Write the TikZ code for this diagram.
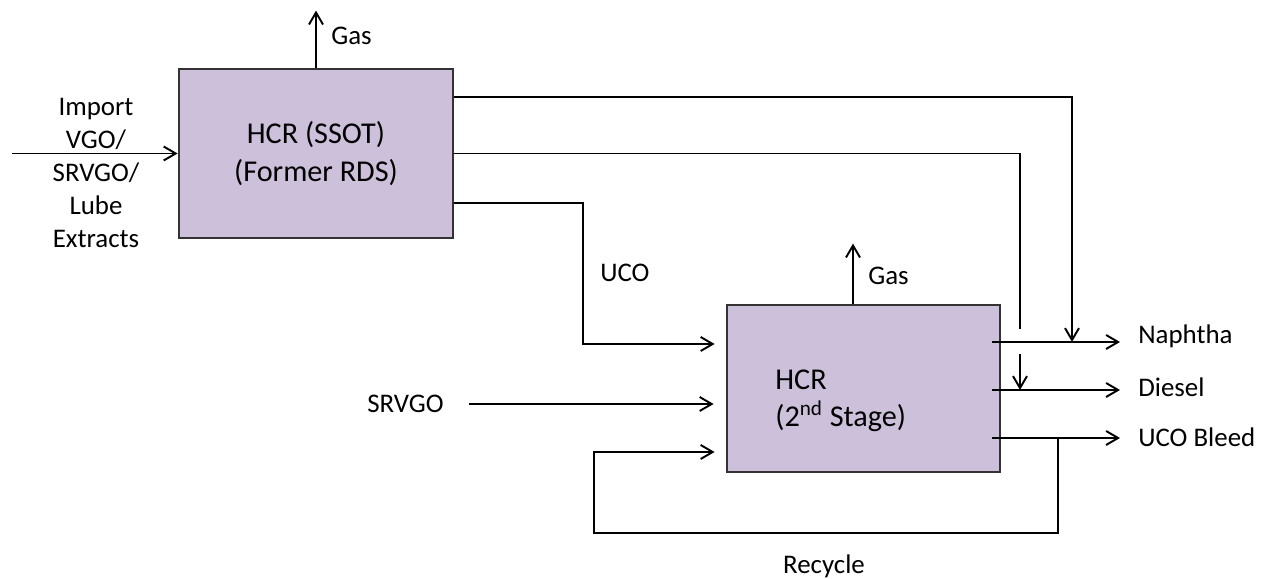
\documentclass[tikz,border=0pt]{standalone}
\usepackage{fontspec}
\setmainfont{Carlito}
\usepackage{xcolor}
\usepackage{tikz}
\usetikzlibrary{arrows.meta,positioning,calc}
\definecolor{unitfill}{HTML}{CCC0DA}

\begin{document}
\begin{tikzpicture}[
                font=\fontsize{15.3}{18.7}\selectfont,
                unit/.style={draw=black!80, line width=1.6pt, fill=unitfill, minimum width=5.48cm, minimum height=3.36cm, inner sep=0pt, align=center, font=\fontsize{17.2}{21.3}\selectfont},
                tag/.style={inner sep=0pt, anchor=base west},
                pipe/.style={line width=1.1pt},
                bus/.style={pipe, -{Straight Barb[length=2.4mm, width=2.8mm]}}
            ]
            \useasboundingbox (0,0) rectangle (25.38,11.58);
            \node[unit, minimum height=3.38cm] (ssot) at (6.32,8.51) {HCR (SSOT)\\(Former RDS)};
            \node[unit, minimum width=5.46cm, minimum height=3.34cm] (stage2) at (17.27,3.81) {};
            \node[inner sep=0pt, anchor=west, align=left, font=\fontsize{17.2}{21.3}\selectfont] (stage2lbl) at (15.50,3.56) {HCR\\(2\textsuperscript{nd} Stage)};
            \node[align=center, inner sep=0pt] (feedlbl) at (1.92,8.12) {Import\\VGO/\\SRVGO/\\Lube\\Extracts};
            \node[tag] (gaslbl1) at (6.62,10.68) {Gas};
            \node[tag] (gaslbl2) at (17.36,5.88) {Gas};
            \node[tag] (ucolbl) at (12.00,5.94) {UCO};
            \node[tag] (srvgolbl) at (7.34,3.32) {SRVGO};
            \node[tag] (naphlbl) at (22.76,4.70) {Naphtha};
            \node[tag] (dsllbl) at (22.76,3.64) {Diesel};
            \node[tag] (bleedlbl) at (22.76,2.64) {UCO Bleed};
            \node[inner sep=0pt, anchor=base] (recyclbl) at (16.48,0.10) {Recycle};
            \coordinate[above=1.14cm of ssot.north] (gasvent1);
            \coordinate (gasfoot2) at ($(stage2.north)+(-0.21,0)$);
            \coordinate[above=1.20cm of gasfoot2] (gasvent2);
            \coordinate (feedin) at (0.24,8.51);
            \coordinate (naphdrop) at (21.44,4.74);
            \coordinate (dslgap1) at (20.40,5.00);
            \coordinate (dslgap2) at (20.40,4.50);
            \coordinate (dsldrop) at (20.40,3.78);
            \coordinate (ucobend) at (11.66,4.70);
            \coordinate (srvgoin) at (9.38,3.50);
            \coordinate (naphout) at ($(stage2.east)+(-0.18,0.93)$);
            \coordinate (dslout) at ($(stage2.east)+(-0.18,-0.03)$);
            \coordinate (bleedout) at ($(stage2.east)+(-0.18,-0.99)$);
            \coordinate (recyctap) at (21.16,2.82);
            \coordinate (recycleft) at (11.88,0.92);
            \draw[bus] (ssot.north) -- (gasvent1);
            \draw[bus] (gasfoot2) -- (gasvent2);
            \draw[bus] (feedin) -- (ssot.west);
            \draw[bus] ($(ssot.east)+(0,1.13)$) -| (naphdrop);
            \draw[pipe] (ssot.east) -| (dslgap1);
            \draw[bus] (dslgap2) -- (dsldrop);
            \draw[bus, shorten >=0.22cm] ($(ssot.east)+(0,-0.99)$) -| (ucobend) -- (ucobend -| stage2.west);
            \draw[bus, shorten >=0.24cm] (srvgoin) -- (srvgoin -| stage2.west);
            \draw[bus, shorten >=0.36cm] (naphout) -- (naphout -| naphlbl.west);
            \draw[bus, shorten >=0.36cm] (dslout) -- (dslout -| dsllbl.west);
            \draw[bus, shorten >=0.36cm] (bleedout) -- (bleedout -| bleedlbl.west);
            \draw[bus, shorten >=0.22cm] (recyctap) |- (recycleft) |- ($(stage2.west)+(0,-1.27)$);
        \end{tikzpicture}
\end{document}
